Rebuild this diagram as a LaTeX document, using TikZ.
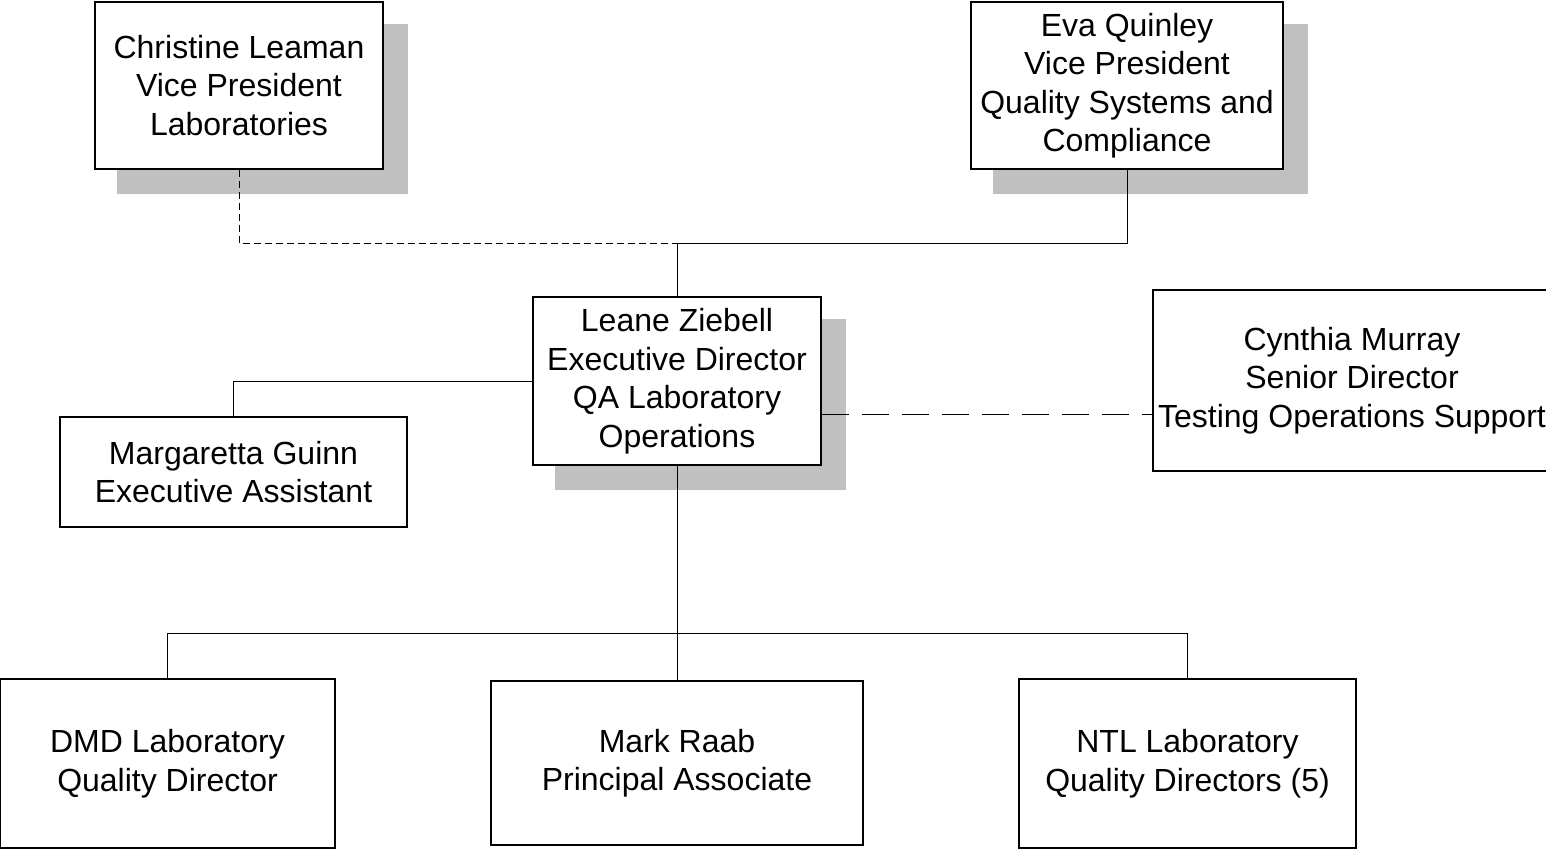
\documentclass[tikz,border=0pt]{standalone}
\usepackage{fontspec}
\setmainfont{Liberation Sans}
\usetikzlibrary{calc,backgrounds}
\definecolor{shadowgray}{RGB}{192,192,192}
\tikzset{
  box/.style={draw=black, line width=1.6pt, fill=white, inner sep=0pt, align=center,
    font=\fontsize{32}{38.5}\selectfont},
  conn/.style={draw=black, line width=0.9pt},
  shortdash/.style={conn, dash pattern=on 7pt off 4pt},
  longdash/.style={conn, dash pattern=on 27pt off 13pt},
  shadowbox/.style={fill=shadowgray}
}
\begin{document}
\begin{tikzpicture}[x=1pt,y=-1pt]
\useasboundingbox (0,0) rectangle (1546,850);

\node[box, minimum width=288pt, minimum height=167pt] (cl) at (239,85.5)
  {Christine Leaman\\Vice President\\Laboratories};
\node[box, minimum width=312pt, minimum height=167pt] (eq) at (1127,85.5)
  {Eva Quinley\\Vice President\\Quality Systems and\\Compliance};
\node[box, minimum width=288pt, minimum height=168pt] (lz) at (677,381)
  {Leane Ziebell\\Executive Director\\QA Laboratory\\Operations};
\node[box, minimum width=398pt, minimum height=181pt] (cm) at (1352,380.5)
  {Cynthia Murray\\Senior Director\\Testing Operations Support};
\node[box, minimum width=347pt, minimum height=110pt] (mg) at (233.5,472)
  {Margaretta Guinn\\Executive Assistant};
\node[box, minimum width=335pt, minimum height=169pt] (dmd) at (167.5,763.5)
  {DMD Laboratory\\Quality Director};
\node[box, minimum width=372pt, minimum height=164pt] (mr) at (677,763)
  {Mark Raab\\Principal Associate};
\node[box, minimum width=337pt, minimum height=169pt] (ntl) at (1187.5,763.5)
  {NTL Laboratory\\Quality Directors (5)};

\begin{scope}[on background layer]
  \foreach \n in {cl,eq,lz}{
    \fill[shadowbox] ($(\n.north west)+(23,23)$) rectangle ($(\n.south east)+(24,24)$);
  }
\end{scope}

\coordinate (jt) at (677,243);
\coordinate (jb) at (677,633);
\draw[shortdash] (cl.south) |- (jt) -- (lz.north);
\draw[conn] (eq.south) |- (jt) -- (lz.north);
\draw[conn] (lz.west) -| (mg.north);
\coordinate (dl) at ($(lz.south east)!0.3!(lz.north east)$);
\draw[longdash] (dl) -- (dl -| cm.west);
\draw[conn] (lz.south) -- (jb);
\draw[conn] (dmd.north) |- (ntl.north |- jb) -- (ntl.north);
\draw[conn] (jb) -- (mr.north);
\end{tikzpicture}
\end{document}
